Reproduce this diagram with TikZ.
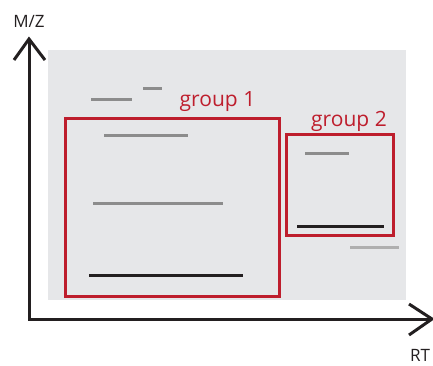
\documentclass[tikz,border=0pt]{standalone}
\usepackage{fontspec}
\setmainfont{Open Sans}
\definecolor{bgray}{RGB}{230,231,233}
\definecolor{gred}{RGB}{190,30,45}
\definecolor{axisk}{RGB}{35,31,32}
\definecolor{mgray}{RGB}{140,140,140}
\definecolor{lgray}{RGB}{175,175,175}
\begin{document}
\begin{tikzpicture}[x=1pt,y=-1pt,
  axisline/.style={draw=axisk,line width=3pt,line join=miter},
  groupbox/.style={draw=gred,line width=3pt},
  grouplabel/.style={text=gred,font=\fontsize{21}{25}\selectfont,inner sep=0pt},
  axislabel/.style={text=axisk,font=\fontsize{17}{20}\selectfont,inner sep=0pt},
  peakg/.style={draw=mgray,line width=3pt},
  peakl/.style={draw=lgray,line width=3pt},
  peakk/.style={draw=axisk,line width=3pt}]
\useasboundingbox (0,0) rectangle (433,365);
% background panel
\fill[bgray] (48,50) rectangle (406,300);
% axes
\coordinate (ytip) at (29,39);
\coordinate (origin) at (29,319);
\coordinate (xtip) at (432,319);
\draw[axisline] (ytip) -- (origin) -- (xtip);
\draw[axisline] (ytip) ++(-15,21) -- (ytip) -- ++(16,21);
\draw[axisline] (xtip) ++(-23,-15) -- (xtip) -- ++(-23,16);
\node[axislabel] (mz) at (29,21) {M/Z};
\node[axislabel] (rt) at (420,355) {RT};
% peaks
\draw[peakg] (91,99) -- (132,99);
\draw[peakg] (143,88) -- (162,88);
\draw[peakg] (104,135) -- (188,135);
\draw[peakg] (93,203) -- (223,203);
\draw[peakk] (89,275) -- (243,275);
\draw[peakg] (305,153) -- (349,153);
\draw[peakk] (297,226) -- (384,226);
\draw[peakl] (350,247) -- (399,247);
% groups
\node[groupbox,minimum width=214pt,minimum height=178pt,inner sep=0pt] (g1) at (172,207) {};
\node[groupbox,minimum width=106.5pt,minimum height=101.5pt,inner sep=0pt] (g2) at (339.75,184.75) {};
\node[grouplabel] (g1l) at (217.5,102) {group 1};
\node[grouplabel] (g2l) at (349,121) {group 2};
\end{tikzpicture}
\end{document}
